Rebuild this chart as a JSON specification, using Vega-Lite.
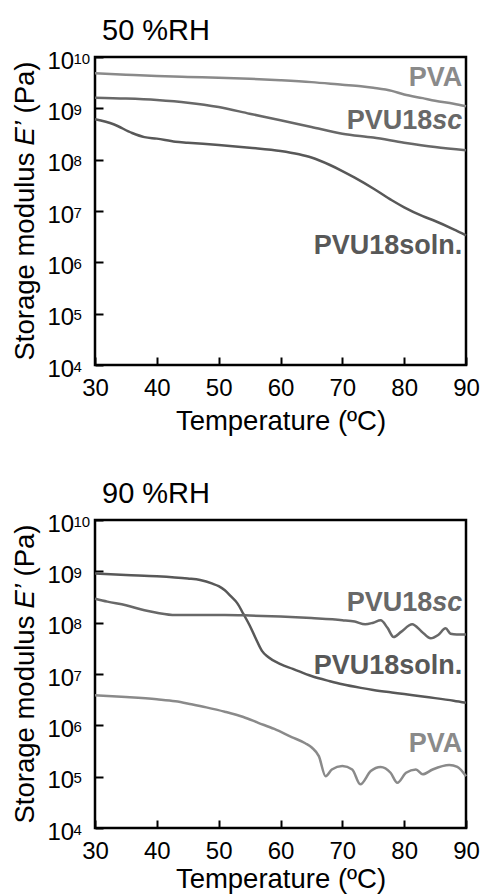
{
  "$schema": "https://vega.github.io/schema/vega-lite/v6.json",
  "padding": {"left": 9, "top": 15, "right": 5, "bottom": 0},
  "config": {
    "font": "Liberation Sans",
    "view": {"stroke": "black", "strokeWidth": 2.5},
    "axis": {"domain": false, "tickColor": "black", "tickWidth": 2, "tickSize": -8, "grid": false, "labelColor": "black", "labelFontSize": 24, "labelFont": "Liberation Sans", "titleFont": "Liberation Sans", "titleFontSize": 27.5, "titleFontWeight": "normal", "titleColor": "black", "labelFlush": false, "labelOverlap": false},
    "title": {"fontSize": 29, "fontWeight": "normal", "color": "black", "anchor": "start", "frame": "group", "font": "Liberation Sans"}
  },
  "spacing": 42,
  "datasets": {
    "curves": [
      {"rh": "50", "sample": "PVA", "T": 30, "E": 4.81e9},
      {"rh": "50", "sample": "PVA", "T": 35, "E": 4.52e9},
      {"rh": "50", "sample": "PVA", "T": 40, "E": 4.27e9},
      {"rh": "50", "sample": "PVA", "T": 45, "E": 4.09e9},
      {"rh": "50", "sample": "PVA", "T": 50, "E": 3.95e9},
      {"rh": "50", "sample": "PVA", "T": 55, "E": 3.76e9},
      {"rh": "50", "sample": "PVA", "T": 60, "E": 3.52e9},
      {"rh": "50", "sample": "PVA", "T": 65, "E": 3.24e9},
      {"rh": "50", "sample": "PVA", "T": 70, "E": 2.88e9},
      {"rh": "50", "sample": "PVA", "T": 73, "E": 2.69e9},
      {"rh": "50", "sample": "PVA", "T": 75, "E": 2.51e9},
      {"rh": "50", "sample": "PVA", "T": 78, "E": 2.19e9},
      {"rh": "50", "sample": "PVA", "T": 80, "E": 1.86e9},
      {"rh": "50", "sample": "PVA", "T": 83, "E": 1.58e9},
      {"rh": "50", "sample": "PVA", "T": 85, "E": 1.41e9},
      {"rh": "50", "sample": "PVA", "T": 88, "E": 1.23e9},
      {"rh": "50", "sample": "PVA", "T": 90, "E": 1.10e9},
      {"rh": "50", "sample": "PVU18sc", "T": 30, "E": 1.61e9},
      {"rh": "50", "sample": "PVU18sc", "T": 35, "E": 1.55e9},
      {"rh": "50", "sample": "PVU18sc", "T": 40, "E": 1.45e9},
      {"rh": "50", "sample": "PVU18sc", "T": 45, "E": 1.29e9},
      {"rh": "50", "sample": "PVU18sc", "T": 50, "E": 1.06e9},
      {"rh": "50", "sample": "PVU18sc", "T": 55, "E": 7.87e8},
      {"rh": "50", "sample": "PVU18sc", "T": 60, "E": 5.85e8},
      {"rh": "50", "sample": "PVU18sc", "T": 65, "E": 4.33e8},
      {"rh": "50", "sample": "PVU18sc", "T": 70, "E": 3.21e8},
      {"rh": "50", "sample": "PVU18sc", "T": 75, "E": 2.69e8},
      {"rh": "50", "sample": "PVU18sc", "T": 80, "E": 2.14e8},
      {"rh": "50", "sample": "PVU18sc", "T": 85, "E": 1.76e8},
      {"rh": "50", "sample": "PVU18sc", "T": 90, "E": 1.52e8},
      {"rh": "50", "sample": "PVU18soln.", "T": 30, "E": 6.11e8},
      {"rh": "50", "sample": "PVU18soln.", "T": 33, "E": 4.9e8},
      {"rh": "50", "sample": "PVU18soln.", "T": 36, "E": 3.31e8},
      {"rh": "50", "sample": "PVU18soln.", "T": 38, "E": 2.75e8},
      {"rh": "50", "sample": "PVU18soln.", "T": 40, "E": 2.57e8},
      {"rh": "50", "sample": "PVU18soln.", "T": 43, "E": 2.24e8},
      {"rh": "50", "sample": "PVU18soln.", "T": 45, "E": 2.14e8},
      {"rh": "50", "sample": "PVU18soln.", "T": 50, "E": 1.93e8},
      {"rh": "50", "sample": "PVU18soln.", "T": 55, "E": 1.71e8},
      {"rh": "50", "sample": "PVU18soln.", "T": 60, "E": 1.48e8},
      {"rh": "50", "sample": "PVU18soln.", "T": 63, "E": 1.27e8},
      {"rh": "50", "sample": "PVU18soln.", "T": 65, "E": 1.10e8},
      {"rh": "50", "sample": "PVU18soln.", "T": 68, "E": 7.87e7},
      {"rh": "50", "sample": "PVU18soln.", "T": 70, "E": 6.01e7},
      {"rh": "50", "sample": "PVU18soln.", "T": 72, "E": 4.47e7},
      {"rh": "50", "sample": "PVU18soln.", "T": 75, "E": 2.75e7},
      {"rh": "50", "sample": "PVU18soln.", "T": 78, "E": 1.62e7},
      {"rh": "50", "sample": "PVU18soln.", "T": 80, "E": 1.18e7},
      {"rh": "50", "sample": "PVU18soln.", "T": 83, "E": 7.94e6},
      {"rh": "50", "sample": "PVU18soln.", "T": 85, "E": 6.38e6},
      {"rh": "50", "sample": "PVU18soln.", "T": 88, "E": 4.4e6},
      {"rh": "50", "sample": "PVU18soln.", "T": 90, "E": 3.36e6},

      {"rh": "90", "sample": "PVU18soln.", "T": 30, "E": 9.12e8},
      {"rh": "90", "sample": "PVU18soln.", "T": 35, "E": 8.51e8},
      {"rh": "90", "sample": "PVU18soln.", "T": 40, "E": 8.04e8},
      {"rh": "90", "sample": "PVU18soln.", "T": 45, "E": 7.24e8},
      {"rh": "90", "sample": "PVU18soln.", "T": 47, "E": 6.76e8},
      {"rh": "90", "sample": "PVU18soln.", "T": 49, "E": 5.75e8},
      {"rh": "90", "sample": "PVU18soln.", "T": 50, "E": 5.13e8},
      {"rh": "90", "sample": "PVU18soln.", "T": 51, "E": 4.27e8},
      {"rh": "90", "sample": "PVU18soln.", "T": 52, "E": 3.24e8},
      {"rh": "90", "sample": "PVU18soln.", "T": 53, "E": 2.4e8},
      {"rh": "90", "sample": "PVU18soln.", "T": 54, "E": 1.48e8},
      {"rh": "90", "sample": "PVU18soln.", "T": 55, "E": 8.91e7},
      {"rh": "90", "sample": "PVU18soln.", "T": 56, "E": 4.9e7},
      {"rh": "90", "sample": "PVU18soln.", "T": 57, "E": 2.82e7},
      {"rh": "90", "sample": "PVU18soln.", "T": 58, "E": 2.14e7},
      {"rh": "90", "sample": "PVU18soln.", "T": 60, "E": 1.55e7},
      {"rh": "90", "sample": "PVU18soln.", "T": 62, "E": 1.26e7},
      {"rh": "90", "sample": "PVU18soln.", "T": 65, "E": 9.12e6},
      {"rh": "90", "sample": "PVU18soln.", "T": 68, "E": 7.24e6},
      {"rh": "90", "sample": "PVU18soln.", "T": 70, "E": 6.31e6},
      {"rh": "90", "sample": "PVU18soln.", "T": 73, "E": 5.37e6},
      {"rh": "90", "sample": "PVU18soln.", "T": 75, "E": 4.9e6},
      {"rh": "90", "sample": "PVU18soln.", "T": 78, "E": 4.37e6},
      {"rh": "90", "sample": "PVU18soln.", "T": 80, "E": 4.07e6},
      {"rh": "90", "sample": "PVU18soln.", "T": 83, "E": 3.63e6},
      {"rh": "90", "sample": "PVU18soln.", "T": 85, "E": 3.39e6},
      {"rh": "90", "sample": "PVU18soln.", "T": 88, "E": 3.02e6},
      {"rh": "90", "sample": "PVU18soln.", "T": 90, "E": 2.75e6},
      {"rh": "90", "sample": "PVU18sc", "T": 30, "E": 2.93e8},
      {"rh": "90", "sample": "PVU18sc", "T": 32, "E": 2.57e8},
      {"rh": "90", "sample": "PVU18sc", "T": 35, "E": 2.19e8},
      {"rh": "90", "sample": "PVU18sc", "T": 38, "E": 1.74e8},
      {"rh": "90", "sample": "PVU18sc", "T": 40, "E": 1.56e8},
      {"rh": "90", "sample": "PVU18sc", "T": 43, "E": 1.41e8},
      {"rh": "90", "sample": "PVU18sc", "T": 47, "E": 1.41e8},
      {"rh": "90", "sample": "PVU18sc", "T": 51, "E": 1.41e8},
      {"rh": "90", "sample": "PVU18sc", "T": 55, "E": 1.38e8},
      {"rh": "90", "sample": "PVU18sc", "T": 60, "E": 1.32e8},
      {"rh": "90", "sample": "PVU18sc", "T": 65, "E": 1.23e8},
      {"rh": "90", "sample": "PVU18sc", "T": 70, "E": 1.12e8},
      {"rh": "90", "sample": "PVU18sc", "T": 72, "E": 1.05e8},
      {"rh": "90", "sample": "PVU18sc", "T": 73.7, "E": 9.29e7},
      {"rh": "90", "sample": "PVU18sc", "T": 75, "E": 1.0e8},
      {"rh": "90", "sample": "PVU18sc", "T": 76.2, "E": 1.11e8},
      {"rh": "90", "sample": "PVU18sc", "T": 77.3, "E": 7.94e7},
      {"rh": "90", "sample": "PVU18sc", "T": 78.3, "E": 5.25e7},
      {"rh": "90", "sample": "PVU18sc", "T": 79.5, "E": 6.61e7},
      {"rh": "90", "sample": "PVU18sc", "T": 81.3, "E": 9.29e7},
      {"rh": "90", "sample": "PVU18sc", "T": 82.8, "E": 6.76e7},
      {"rh": "90", "sample": "PVU18sc", "T": 84.3, "E": 4.95e7},
      {"rh": "90", "sample": "PVU18sc", "T": 85.5, "E": 5.75e7},
      {"rh": "90", "sample": "PVU18sc", "T": 86.7, "E": 7.76e7},
      {"rh": "90", "sample": "PVU18sc", "T": 87.5, "E": 6.1e7},
      {"rh": "90", "sample": "PVU18sc", "T": 88.5, "E": 5.89e7},
      {"rh": "90", "sample": "PVU18sc", "T": 90, "E": 5.89e7},
      {"rh": "90", "sample": "PVA", "T": 30, "E": 3.85e6},
      {"rh": "90", "sample": "PVA", "T": 35, "E": 3.55e6},
      {"rh": "90", "sample": "PVA", "T": 40, "E": 3.21e6},
      {"rh": "90", "sample": "PVA", "T": 43, "E": 2.95e6},
      {"rh": "90", "sample": "PVA", "T": 45.6, "E": 2.57e6},
      {"rh": "90", "sample": "PVA", "T": 48, "E": 2.24e6},
      {"rh": "90", "sample": "PVA", "T": 51, "E": 1.84e6},
      {"rh": "90", "sample": "PVA", "T": 54, "E": 1.45e6},
      {"rh": "90", "sample": "PVA", "T": 56.4, "E": 1.12e6},
      {"rh": "90", "sample": "PVA", "T": 59, "E": 8.51e5},
      {"rh": "90", "sample": "PVA", "T": 61.8, "E": 5.92e5},
      {"rh": "90", "sample": "PVA", "T": 64, "E": 4.47e5},
      {"rh": "90", "sample": "PVA", "T": 65.1, "E": 3.66e5},
      {"rh": "90", "sample": "PVA", "T": 66.2, "E": 2.51e5},
      {"rh": "90", "sample": "PVA", "T": 67.3, "E": 1.02e5},
      {"rh": "90", "sample": "PVA", "T": 68.3, "E": 1.38e5},
      {"rh": "90", "sample": "PVA", "T": 70, "E": 1.61e5},
      {"rh": "90", "sample": "PVA", "T": 71.6, "E": 1.38e5},
      {"rh": "90", "sample": "PVA", "T": 72.9, "E": 7.08e4},
      {"rh": "90", "sample": "PVA", "T": 74.6, "E": 1.29e5},
      {"rh": "90", "sample": "PVA", "T": 76.2, "E": 1.55e5},
      {"rh": "90", "sample": "PVA", "T": 77.8, "E": 1.19e5},
      {"rh": "90", "sample": "PVA", "T": 78.9, "E": 7.59e4},
      {"rh": "90", "sample": "PVA", "T": 80.3, "E": 1.19e5},
      {"rh": "90", "sample": "PVA", "T": 81.9, "E": 1.38e5},
      {"rh": "90", "sample": "PVA", "T": 83, "E": 1.11e5},
      {"rh": "90", "sample": "PVA", "T": 84.6, "E": 1.38e5},
      {"rh": "90", "sample": "PVA", "T": 87.3, "E": 1.69e5},
      {"rh": "90", "sample": "PVA", "T": 88.6, "E": 1.55e5},
      {"rh": "90", "sample": "PVA", "T": 90, "E": 1.02e5}
    ],
    "labels": [
      {"rh": "50", "sample": "PVA", "part": "main", "text": "PVA", "T": 89.4, "E": 3.89e9},
      {"rh": "50", "sample": "PVU18sc", "part": "head", "text": "PVU18", "T": 89.4, "E": 5.66e8},
      {"rh": "50", "sample": "PVU18sc", "part": "tail", "text": "sc", "T": 89.4, "E": 5.66e8},
      {"rh": "50", "sample": "PVU18soln.", "part": "main", "text": "PVU18soln.", "T": 89.4, "E": 2.09e6},
      {"rh": "90", "sample": "PVU18sc", "part": "head", "text": "PVU18", "T": 89.4, "E": 2.45e8},
      {"rh": "90", "sample": "PVU18sc", "part": "tail", "text": "sc", "T": 89.4, "E": 2.45e8},
      {"rh": "90", "sample": "PVU18soln.", "part": "main", "text": "PVU18soln.", "T": 89.4, "E": 1.43e7},
      {"rh": "90", "sample": "PVA", "part": "main", "text": "PVA", "T": 89.4, "E": 4.27e5}
    ]
  },
  "vconcat": [
    {
      "title": {"text": "50 %RH", "dx": 7, "offset": 3},
      "width": 371,
      "height": 308,
      "resolve": {"axis": {"y": "independent"}},
      "encoding": {
        "x": {"field": "T", "type": "quantitative", "scale": {"domain": [30, 90], "nice": false, "zero": false}, "axis": {"values": [30, 40, 50, 60, 70, 80, 90], "title": "Temperature (ºC)", "labelPadding": 19, "titlePadding": 7}},
        "color": {"field": "sample", "type": "nominal", "scale": {"domain": ["PVA", "PVU18sc", "PVU18soln."], "range": ["#8a8a8a", "#686868", "#585858"]}, "legend": null}
      },
      "layer": [
        {"data": {"name": "curves"}, "transform": [{"filter": "datum.rh == '50'"}], "mark": {"type": "line", "strokeWidth": 2.5, "interpolate": "monotone"},
         "encoding": {"y": {"field": "E", "type": "quantitative", "scale": {"type": "log", "domain": [1e4, 1e10], "nice": false}, "axis": {"orient": "left", "values": [1e4, 1e5, 1e6, 1e7, 1e8, 1e9, 1e10], "labelExpr": "'10'", "labelAlign": "left", "labelPadding": 56, "labelOffset": 4, "title": "Storage modulus", "titleX": -70, "titleY": 303, "titleAlign": "left", "titleBaseline": "middle", "titleAngle": 270}}}},
        {"data": {"name": "labels"}, "transform": [{"filter": "datum.rh == '50' && datum.part == 'main'"}], "mark": {"type": "text", "align": "right", "baseline": "middle", "fontWeight": "bold", "fontSize": 27},
         "encoding": {"text": {"field": "text"}, "y": {"field": "E", "type": "quantitative", "scale": {"type": "log", "domain": [1e4, 1e10], "nice": false}, "axis": {"orient": "left", "values": [1e4, 1e5, 1e6, 1e7, 1e8, 1e9, 1e10], "labelExpr": "['4','5','6','7','8','9','10'][round(log(datum.value)/LN10)-4]", "labelAlign": "left", "labelPadding": 22, "labelOffset": 1, "labelFontSize": 15, "ticks": false, "title": "E’", "titleFontStyle": "italic", "titleX": -70, "titleY": 88, "titleAlign": "left", "titleBaseline": "middle", "titleAngle": 270}}}},
        {"data": {"name": "labels"}, "transform": [{"filter": "datum.rh == '50' && datum.part == 'head'"}], "mark": {"type": "text", "align": "right", "baseline": "middle", "fontWeight": "bold", "fontSize": 27, "dx": -30},
         "encoding": {"text": {"field": "text"}, "y": {"field": "E", "type": "quantitative", "scale": {"type": "log", "domain": [1e4, 1e10], "nice": false}, "axis": {"orient": "left", "labels": false, "ticks": false, "title": "(Pa)", "titleX": -70, "titleY": 56, "titleAlign": "left", "titleBaseline": "middle", "titleAngle": 270}}}},
        {"data": {"name": "labels"}, "transform": [{"filter": "datum.rh == '50' && datum.part == 'tail'"}], "mark": {"type": "text", "align": "right", "baseline": "middle", "fontWeight": "bold", "fontStyle": "italic", "fontSize": 27},
         "encoding": {"text": {"field": "text"}, "y": {"field": "E", "type": "quantitative", "scale": {"type": "log", "domain": [1e4, 1e10], "nice": false}, "axis": null}}}
      ]
    },
    {
      "title": {"text": "90 %RH", "dx": 7, "offset": 3},
      "width": 371,
      "height": 308,
      "resolve": {"axis": {"y": "independent"}},
      "encoding": {
        "x": {"field": "T", "type": "quantitative", "scale": {"domain": [30, 90], "nice": false, "zero": false}, "axis": {"values": [30, 40, 50, 60, 70, 80, 90], "title": "Temperature (ºC)", "labelPadding": 19, "titlePadding": 2}},
        "color": {"field": "sample", "type": "nominal", "scale": {"domain": ["PVA", "PVU18sc", "PVU18soln."], "range": ["#8a8a8a", "#686868", "#585858"]}, "legend": null}
      },
      "layer": [
        {"data": {"name": "curves"}, "transform": [{"filter": "datum.rh == '90'"}], "mark": {"type": "line", "strokeWidth": 2.5, "interpolate": "monotone"},
         "encoding": {"y": {"field": "E", "type": "quantitative", "scale": {"type": "log", "domain": [1e4, 1e10], "nice": false}, "axis": {"orient": "left", "values": [1e4, 1e5, 1e6, 1e7, 1e8, 1e9, 1e10], "labelExpr": "'10'", "labelAlign": "left", "labelPadding": 56, "labelOffset": 4, "title": "Storage modulus", "titleX": -70, "titleY": 303, "titleAlign": "left", "titleBaseline": "middle", "titleAngle": 270}}}},
        {"data": {"name": "labels"}, "transform": [{"filter": "datum.rh == '90' && datum.part == 'main'"}], "mark": {"type": "text", "align": "right", "baseline": "middle", "fontWeight": "bold", "fontSize": 27},
         "encoding": {"text": {"field": "text"}, "y": {"field": "E", "type": "quantitative", "scale": {"type": "log", "domain": [1e4, 1e10], "nice": false}, "axis": {"orient": "left", "values": [1e4, 1e5, 1e6, 1e7, 1e8, 1e9, 1e10], "labelExpr": "['4','5','6','7','8','9','10'][round(log(datum.value)/LN10)-4]", "labelAlign": "left", "labelPadding": 22, "labelOffset": 1, "labelFontSize": 15, "ticks": false, "title": "E’", "titleFontStyle": "italic", "titleX": -70, "titleY": 88, "titleAlign": "left", "titleBaseline": "middle", "titleAngle": 270}}}},
        {"data": {"name": "labels"}, "transform": [{"filter": "datum.rh == '90' && datum.part == 'head'"}], "mark": {"type": "text", "align": "right", "baseline": "middle", "fontWeight": "bold", "fontSize": 27, "dx": -30},
         "encoding": {"text": {"field": "text"}, "y": {"field": "E", "type": "quantitative", "scale": {"type": "log", "domain": [1e4, 1e10], "nice": false}, "axis": {"orient": "left", "labels": false, "ticks": false, "title": "(Pa)", "titleX": -70, "titleY": 56, "titleAlign": "left", "titleBaseline": "middle", "titleAngle": 270}}}},
        {"data": {"name": "labels"}, "transform": [{"filter": "datum.rh == '90' && datum.part == 'tail'"}], "mark": {"type": "text", "align": "right", "baseline": "middle", "fontWeight": "bold", "fontStyle": "italic", "fontSize": 27},
         "encoding": {"text": {"field": "text"}, "y": {"field": "E", "type": "quantitative", "scale": {"type": "log", "domain": [1e4, 1e10], "nice": false}, "axis": null}}}
      ]
    }
  ]
}
